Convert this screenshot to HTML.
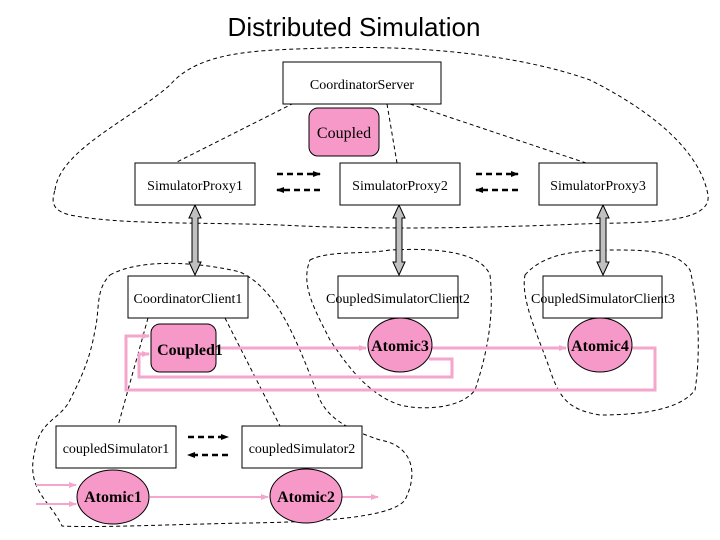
<!DOCTYPE html>
<html><head><style>body{margin:0;background:#fff}svg{display:block}</style></head><body>
<svg width="720" height="540" viewBox="0 0 720 540" xmlns="http://www.w3.org/2000/svg">
<defs>
<marker id="pk" markerWidth="8" markerHeight="8" refX="7" refY="4" orient="auto" markerUnits="userSpaceOnUse"><path d="M0,1 L8,4 L0,7z" fill="#f4a6cc"/></marker>
<marker id="bk" markerWidth="8" markerHeight="8" refX="7" refY="4" orient="auto" markerUnits="userSpaceOnUse"><path d="M0,1 L8,4 L0,7z" fill="#000"/></marker>
</defs>
<text x="354" y="36" font-family="Liberation Sans, sans-serif" font-size="26" text-anchor="middle">Distributed Simulation</text>
<g fill="none" stroke="#000" stroke-width="1" stroke-dasharray="4,3">
<path d="M55,190 C60,150 130,120 170,85 C200,50 260,50 330,48 C420,45 520,55 590,80 C650,110 700,150 708,195 C712,225 640,222 580,224 C480,228 380,230 280,225 C200,222 120,225 70,215 C50,210 52,200 55,190Z"/>
<path d="M110,275 C140,258 200,262 240,272 C280,290 300,350 320,400 C330,420 350,430 380,440 C410,445 420,470 405,500 C390,520 300,522 250,523 C180,524 100,528 62,526 C50,500 25,490 35,450 C40,420 60,420 70,400 C80,380 90,360 95,330 C100,310 95,290 110,275Z"/>
<path d="M310,260 C330,250 360,255 390,250 C430,248 480,250 490,275 C495,320 485,360 475,390 C460,410 420,410 400,405 C370,395 350,370 330,340 C315,310 300,285 310,260Z"/>
<path d="M525,275 C545,252 580,250 620,250 C660,250 680,255 690,270 C700,310 700,360 695,390 C680,410 640,415 600,415 C570,410 560,400 550,370 C540,340 520,300 525,275Z"/>
<path d="M300,100 L175,163 M387,104 L397,163 M410,104 L592,165 M148,318 L118,426 M225,318 L280,426"/>
</g>
<g stroke="#000" stroke-width="2.5" stroke-dasharray="6,4" marker-end="url(#bk)">
<line x1="277" y1="174" x2="320" y2="174"/><line x1="320" y1="190" x2="277" y2="190"/>
<line x1="476" y1="174" x2="518" y2="174"/><line x1="518" y1="190" x2="476" y2="190"/>
<line x1="188" y1="437" x2="228" y2="437"/><line x1="228" y1="455" x2="188" y2="455"/>
</g>
<g fill="#c0c0c0" stroke="#000" stroke-width="1">
<path d="M195,205 L201,218 L198,218 L198,262 L201,262 L195,275 L189,262 L192,262 L192,218 L189,218Z"/>
<path d="M399,205 L405,218 L402,218 L402,262 L405,262 L399,275 L393,262 L396,262 L396,218 L393,218Z"/>
<path d="M603,205 L609,218 L606,218 L606,262 L609,262 L603,275 L597,262 L600,262 L600,218 L597,218Z"/>
</g>
<g fill="#fff" stroke="#000" stroke-width="1">
<rect x="283" y="62" width="158" height="42"/>
<rect x="135" y="163" width="120" height="42"/>
<rect x="340" y="163" width="120" height="42"/>
<rect x="539" y="163" width="118" height="42"/>
<rect x="128" y="276" width="120" height="42"/>
<rect x="338" y="276" width="120" height="42"/>
<rect x="543" y="276" width="119" height="42"/>
<rect x="56" y="426" width="120" height="42"/>
<rect x="242" y="426" width="120" height="42"/>
</g>
<g fill="none" stroke="#f4a6cc" stroke-width="3">
<path d="M216,348 L366,348" marker-end="url(#pk)"/>
<path d="M432,348 L566,348" marker-end="url(#pk)"/>
<path d="M429,359 L452,359 L452,377 L139,377 L139,354 L149,354" marker-end="url(#pk)"/>
<path d="M632,348 L655,348 L655,390 L126,390 L126,336 L149,336" marker-end="url(#pk)"/>
<path d="M36,485 L76,485" marker-end="url(#pk)" stroke-width="2"/>
<path d="M36,504 L76,504" marker-end="url(#pk)" stroke-width="2"/>
<path d="M150,497 L268,497" marker-end="url(#pk)" stroke-width="2"/>
<path d="M342,497 L378,497" marker-end="url(#pk)" stroke-width="2"/>
</g>
<g fill="#f799c8" stroke="#000" stroke-width="1">
<rect x="309" y="108" width="70" height="48" rx="9"/>
<rect x="151" y="324" width="65" height="48" rx="9"/>
<ellipse cx="400" cy="345" rx="32" ry="27"/>
<ellipse cx="600" cy="345" rx="32" ry="27"/>
<ellipse cx="113" cy="497" rx="36" ry="27"/>
<ellipse cx="306" cy="496" rx="36" ry="27"/>
</g>
<g font-family="Liberation Serif, serif" font-size="14" text-anchor="middle">
<text x="362" y="89">CoordinatorServer</text>
<text x="195" y="190">SimulatorProxy1</text>
<text x="400" y="190">SimulatorProxy2</text>
<text x="598" y="190">SimulatorProxy3</text>
<text x="188" y="303">CoordinatorClient1</text>
<text x="398" y="303">CoupledSimulatorClient2</text>
<text x="603" y="303">CoupledSimulatorClient3</text>
<text x="116" y="453">coupledSimulator1</text>
<text x="302" y="453">coupledSimulator2</text>
</g>
<g font-family="Liberation Serif, serif" font-size="16" text-anchor="middle">
<text x="344" y="138">Coupled</text>
<text x="190" y="355" font-weight="bold">Coupled1</text>
<text x="400" y="351" font-weight="bold">Atomic3</text>
<text x="600" y="351" font-weight="bold">Atomic4</text>
<text x="113" y="502" font-weight="bold">Atomic1</text>
<text x="306" y="502" font-weight="bold">Atomic2</text>
</g>
</svg>
</body></html>
